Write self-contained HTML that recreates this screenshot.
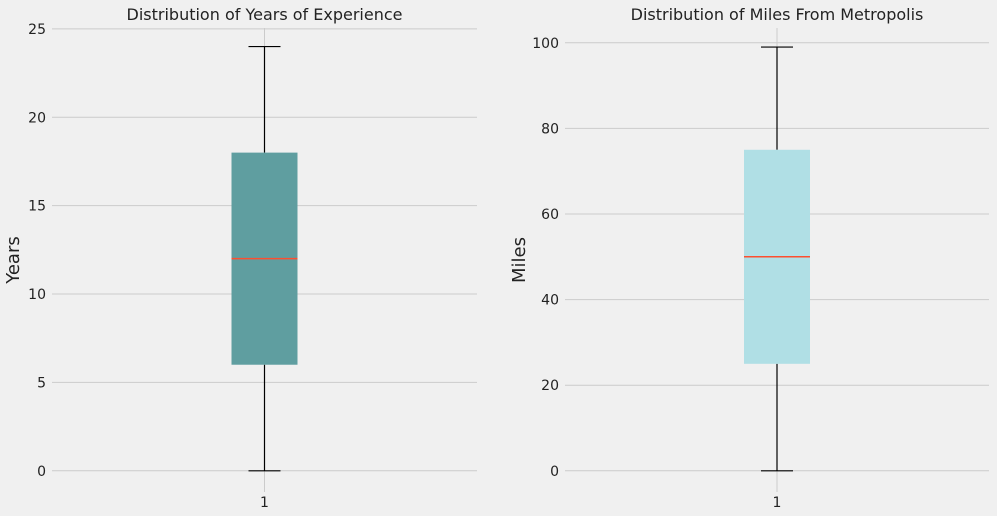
<!DOCTYPE html>
<html><head><meta charset="utf-8"><style>
html,body{margin:0;padding:0;background:#f0f0f0;}
svg{display:block;font-family:"DejaVu Sans","Liberation Sans",sans-serif;}
</style></head><body>
<svg id="chart" width="997" height="516" viewBox="0 0 997 516" xmlns="http://www.w3.org/2000/svg"></svg>
<script>
const titles = ["Distribution of Years of Experience", "Distribution of Miles From Metropolis"];
const yLabels = ["Years", "Miles"];
const yTicks = [[0,5,10,15,20,25],[0,20,40,60,80,100]];
const whiskerLow = [0, 0];
const q1 = [6, 25];
const median = [12, 50];
const q3 = [18, 75];
const whiskerHigh = [24, 99];
const boxColors = ["#5f9ea0", "#b0dfe5"];

const panels = [
  {x0:52, x1:477, yTop:28, yBot:492, dmin:-1.2, dmax:25.05, ylOff:33},
  {x0:565, x1:989, yTop:28, yBot:492, dmin:-4.95, dmax:103.45, ylOff:40}
];
const NS = "http://www.w3.org/2000/svg";
const svg = document.getElementById('chart');
function mk(tag, attrs, parent){const e=document.createElementNS(NS,tag);for(const k in attrs)e.setAttribute(k,attrs[k]);(parent||svg).appendChild(e);return e;}

panels.forEach((p,i)=>{
  const g = mk('g',{});
  
  
  const y = v => p.yBot - (v - p.dmin)/(p.dmax - p.dmin)*(p.yBot - p.yTop);
  const cx = (p.x0+p.x1)/2;
  yTicks[i].forEach(t=>{
    const ln = mk('line',{x1:p.x0,x2:p.x1,y1:y(t),y2:y(t),stroke:'#cbcbcb','stroke-width':1},g);
    
    
    const tx = mk('text',{x:p.x0-6,y:y(t)+5,'text-anchor':'end','font-size':14,fill:'#222'},g);
    tx.textContent = t;
    
    
  });
  const vg = mk('line',{x1:cx,x2:cx,y1:p.yTop,y2:p.yBot,stroke:'#cbcbcb','stroke-width':1},g);
  
  
  const xt = mk('text',{x:cx,y:507,'text-anchor':'middle','font-size':14,fill:'#222'},g);
  xt.textContent = '1';
  
  
  const ti = mk('text',{x:cx,y:20,'text-anchor':'middle','font-size':16,fill:'#222'},g);
  ti.textContent = titles[i];
  
  
  const yl = mk('text',{x:0,y:0,'text-anchor':'middle','font-size':18,fill:'#222',transform:`translate(${p.x0-p.ylOff},${(p.yTop+p.yBot)/2}) rotate(-90)`},g);
  yl.textContent = yLabels[i];
  
  
  const bw = 33, cw = 16;
  const w1 = mk('line',{x1:cx,x2:cx,y1:y(whiskerHigh[i]),y2:y(q3[i]),stroke:'#000','stroke-width':1.2},g);
  
  
  const w2 = mk('line',{x1:cx,x2:cx,y1:y(q1[i]),y2:y(whiskerLow[i]),stroke:'#000','stroke-width':1.2},g);
  
  
  const c1 = mk('line',{x1:cx-cw,x2:cx+cw,y1:y(whiskerHigh[i]),y2:y(whiskerHigh[i]),stroke:'#000','stroke-width':1.2},g);
  
  
  const c2 = mk('line',{x1:cx-cw,x2:cx+cw,y1:y(whiskerLow[i]),y2:y(whiskerLow[i]),stroke:'#000','stroke-width':1.2},g);
  
  
  const box = mk('rect',{x:cx-bw,y:y(q3[i]),width:bw*2,height:y(q1[i])-y(q3[i]),fill:boxColors[i]},g);
  
  
  const md = mk('line',{x1:cx-bw,x2:cx+bw,y1:y(median[i]),y2:y(median[i]),stroke:'#fc4f30','stroke-width':1.5},g);
  
  
});
</script>
</body></html>
